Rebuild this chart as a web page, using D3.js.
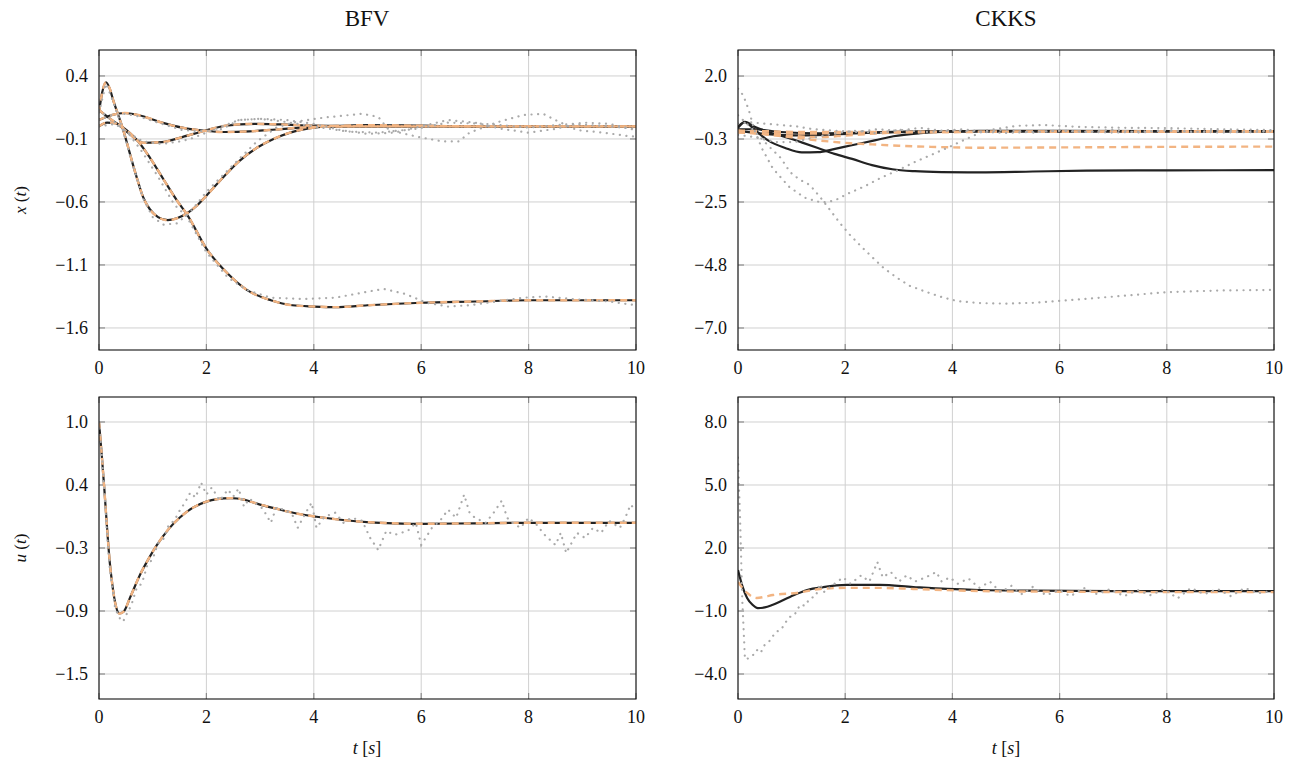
<!DOCTYPE html>
<html><head><meta charset="utf-8">
<script src="https://cdn.jsdelivr.net/npm/d3@7"></script>
<style>body{margin:0;background:#fff} text{font-family:"Liberation Serif","DejaVu Serif",serif !important}</style>
</head><body><svg id="c" width="1299" height="762"></svg>
<script>
// ---------- data ----------
const xTicks = [0, 2, 4, 6, 8, 10];
const titles = ["BFV", "CKKS"];

// BFV x(t) : reference (black) and encrypted (orange) coincide
const bfvX1 = [[0,0.11],[0.06,0.27],[0.13,0.35],[0.2,0.3],[0.27,0.2],[0.35,0.1],[0.43,0.0],[0.52,-0.13],[0.61,-0.27],[0.72,-0.43],[0.82,-0.56],[0.95,-0.66],[1.1,-0.72],[1.28,-0.745],[1.45,-0.73],[1.64,-0.69],[1.82,-0.63],[2.0,-0.55],[2.3,-0.41],[2.6,-0.28],[2.94,-0.17],[3.25,-0.1],[3.56,-0.05],[4.0,-0.01],[4.5,0.005],[5,0.01],[6,0.005],[7,0.0],[8,0.0],[10,0.0]];
const bfvX2 = [[0,0.13],[0.24,0.05],[0.54,-0.04],[0.73,-0.12],[0.95,-0.25],[1.2,-0.42],[1.47,-0.6],[1.64,-0.7],[2.0,-0.97],[2.4,-1.17],[2.76,-1.3],[3.2,-1.38],[3.6,-1.42],[4.0,-1.43],[4.4,-1.435],[5,-1.42],[6,-1.4],[7,-1.39],[8,-1.38],[10,-1.38]];
const bfvX3 = [[0,0.05],[0.24,0.09],[0.48,0.106],[0.73,0.09],[1.17,0.03],[1.55,-0.01],[1.97,-0.035],[2.35,-0.045],[2.8,-0.04],[3.3,-0.025],[4.0,-0.005],[5,0.0],[10,0.0]];
const bfvX4 = [[0,0.0],[0.15,0.03],[0.3,0.025],[0.54,-0.05],[0.82,-0.13],[1.17,-0.125],[1.55,-0.085],[1.97,-0.035],[2.35,0.005],[2.9,0.02],[3.4,0.015],[4,0.005],[5,0.0],[10,0.0]];
// BFV x(t) noisy (grey dotted)
const bfvXd1 = [[0,0.11],[0.13,0.34],[0.27,0.19],[0.43,-0.01],[0.61,-0.28],[0.82,-0.57],[1.0,-0.72],[1.2,-0.78],[1.45,-0.77],[1.7,-0.68],[2.0,-0.52],[2.3,-0.39],[2.63,-0.25],[2.94,-0.12],[3.3,-0.01],[3.7,0.04],[4.2,0.07],[4.67,0.09],[4.9,0.1],[5.2,0.075],[5.4,-0.03],[5.9,-0.08],[6.4,-0.12],[6.7,-0.12],[6.9,-0.05],[7.4,0.03],[7.9,0.09],[8.27,0.1],[8.5,0.05],[8.9,-0.03],[9.4,-0.05],[9.9,-0.08],[10,-0.08]];
const bfvXd2 = [[0,0.13],[0.24,0.05],[0.54,-0.05],[0.8,-0.2],[1.1,-0.4],[1.4,-0.62],[1.64,-0.72],[2.0,-1.0],[2.4,-1.2],[2.76,-1.3],[3.2,-1.36],[3.8,-1.37],[4.4,-1.36],[4.9,-1.32],[5.3,-1.29],[5.7,-1.33],[6.1,-1.4],[6.5,-1.43],[6.9,-1.42],[7.4,-1.39],[7.9,-1.36],[8.3,-1.35],[8.8,-1.37],[9.5,-1.39],[10,-1.42]];
const bfvXd3 = [[0,0.05],[0.24,0.09],[0.48,0.1],[0.73,0.08],[1.17,0.02],[1.55,-0.03],[1.97,-0.04],[2.3,-0.02],[2.6,0.05],[3.0,0.06],[3.4,0.04],[4,0.0],[4.6,-0.04],[5.2,-0.05],[5.9,-0.02],[6.5,0.03],[7.2,0.02],[8,-0.01],[8.8,0.02],[9.5,0.0],[10,-0.02]];
const bfvXd4 = [[0,0.0],[0.3,0.02],[0.54,-0.05],[0.82,-0.12],[1.17,-0.14],[1.5,-0.12],[1.7,-0.1],[2.0,-0.05],[2.3,0.0],[2.6,0.05],[3.0,0.06],[3.5,0.05],[4,0.02],[4.5,-0.03],[5,-0.06],[5.5,-0.05],[6,0.0],[6.5,0.05],[7,0.03],[7.5,-0.02],[8,-0.05],[8.5,-0.02],[9,0.03],[9.5,0.02],[10,-0.03]];

// CKKS x(t)
const ckX1 = [[0,0.18],[0.13,0.36],[0.32,0.18],[0.6,-0.02],[0.88,-0.18],[1.2,-0.38],[1.49,-0.57],[1.8,-0.78],[2.13,-0.96],[2.5,-1.18],[2.88,-1.33],[3.3,-1.4],[3.8,-1.43],[4.5,-1.44],[5.5,-1.41],[6.5,-1.38],[8,-1.37],[10,-1.36]];
const ckX2 = [[0,0.15],[0.13,0.35],[0.3,0.1],[0.56,-0.3],[0.88,-0.57],[1.19,-0.73],[1.49,-0.72],[1.81,-0.6],[2.1,-0.48],[2.55,-0.3],[2.9,-0.15],[3.4,-0.04],[4,0.02],[4.5,0.04],[6,0.04],[10,0.03]];
const ckX3 = [[0,0.1],[0.3,0.1],[0.8,0.0],[1.5,-0.05],[2.5,-0.02],[4,0.02],[10,0.02]];
const ckX4 = [[0,0.05],[0.4,-0.05],[1,-0.12],[1.6,-0.1],[2.4,-0.03],[3.5,0.02],[10,0.02]];
const ckXo1 = [[0,0.05],[0.5,-0.08],[1.0,-0.19],[1.5,-0.3],[2.1,-0.4],[2.5,-0.44],[3.0,-0.49],[3.6,-0.53],[4.5,-0.56],[6,-0.55],[8,-0.53],[10,-0.52]];
const ckXo2 = [[0,0.0],[0.5,-0.07],[1.0,-0.14],[1.5,-0.18],[2.0,-0.13],[2.6,-0.05],[3.4,0.0],[10,0.02]];
const ckXo3 = [[0,0.05],[0.5,0.03],[1.2,0.0],[2,0.0],[10,0.03]];
const ckXo4 = [[0,-0.02],[0.6,-0.05],[1.5,-0.05],[3,0.0],[10,0.02]];
const ckXd1 = [[0,1.55],[0.1,1.3],[0.2,0.8],[0.3,0.1],[0.45,-0.6],[0.65,-1.3],[0.95,-1.95],[1.25,-2.35],[1.55,-2.52],[1.8,-2.45],[2.05,-2.2],[2.35,-1.95],[2.65,-1.65],[3.0,-1.35],[3.3,-1.07],[3.6,-0.82],[3.9,-0.57],[4.2,-0.3],[4.6,0.05],[5.2,0.22],[5.7,0.25],[6.4,0.18],[7.2,0.15],[8,0.14],[9,0.1],[10,0.07]];
const ckXd2 = [[0,0.6],[0.25,0.14],[0.55,-0.46],[0.8,-0.93],[0.97,-1.43],[1.15,-1.7],[1.34,-1.89],[1.53,-2.32],[1.72,-2.79],[1.9,-3.25],[2.09,-3.68],[2.31,-4.11],[2.52,-4.5],[2.72,-4.86],[2.97,-5.21],[3.21,-5.5],[3.51,-5.71],[3.79,-5.89],[4.09,-6.04],[4.51,-6.11],[5.0,-6.13],[5.5,-6.1],[6.0,-6.03],[7.0,-5.88],[8.0,-5.72],[9,-5.66],[10,-5.64]];
const ckXd3 = [[0,0.3],[0.2,0.35],[0.5,0.3],[0.8,0.25],[1.1,0.2],[1.4,0.1],[1.8,0.05],[2.2,0.0],[2.6,0.1],[3.0,0.05],[3.4,0.15],[3.8,0.05],[4.2,0.1],[4.6,0.0],[5,0.08],[5.5,-0.02],[6,0.06],[6.5,0.0],[7,0.08],[7.5,-0.02],[8,0.07],[8.5,0.0],[9,0.06],[9.5,-0.01],[10,0.05]];
const ckXd4 = [[0,-0.1],[0.3,-0.18],[0.7,-0.36],[1.06,-0.36],[1.4,-0.2],[1.8,-0.05],[2.2,0.05],[2.6,-0.05],[3.0,0.08],[3.5,0.0],[4,0.05],[5,-0.03],[6,0.04],[7,-0.02],[8,0.05],[9,-0.02],[10,0.03]];

// BFV u(t)
const bfvU = [[0,1.0],[0.05,0.68],[0.1,0.33],[0.15,-0.05],[0.2,-0.39],[0.25,-0.62],[0.3,-0.79],[0.38,-0.9],[0.46,-0.88],[0.58,-0.74],[0.76,-0.52],[0.92,-0.36],[1.08,-0.22],[1.3,-0.06],[1.5,0.05],[1.75,0.15],[2.0,0.21],[2.2,0.235],[2.45,0.245],[2.7,0.23],[2.94,0.19],[3.3,0.14],[3.7,0.09],[4.05,0.06],[4.5,0.03],[5.05,0.005],[5.5,-0.005],[6,-0.01],[7,-0.005],[8,0.0],[9,0.0],[10,0.0]];
const bfvUd = [[0,1.0],[0.05,0.7],[0.1,0.3],[0.15,-0.1],[0.2,-0.45],[0.3,-0.85],[0.4,-0.96],[0.45,-0.98],[0.52,-0.9],[0.6,-0.82],[0.7,-0.65],[0.8,-0.6],[0.9,-0.42],[1.0,-0.36],[1.1,-0.2],[1.2,-0.16],[1.3,-0.02],[1.4,0.02],[1.5,0.12],[1.6,0.2],[1.7,0.3],[1.8,0.25],[1.9,0.4],[2.0,0.28],[2.1,0.35],[2.25,0.22],[2.4,0.33],[2.5,0.26],[2.6,0.34],[2.7,0.16],[2.8,0.24],[2.9,0.2],[3.05,0.14],[3.2,0.0],[3.3,0.15],[3.45,0.13],[3.6,0.08],[3.7,-0.05],[3.85,0.1],[3.96,0.2],[4.05,-0.05],[4.2,0.06],[4.4,0.1],[4.55,0.0],[4.7,0.05],[4.9,0.02],[5.05,-0.15],[5.2,-0.27],[5.35,-0.08],[5.5,-0.12],[5.75,-0.08],[5.9,0.0],[6.0,-0.22],[6.2,-0.05],[6.35,0.02],[6.5,0.13],[6.65,0.05],[6.8,0.28],[6.9,0.1],[7.0,0.05],[7.2,0.0],[7.35,0.1],[7.5,0.22],[7.6,0.05],[7.7,0.0],[7.85,-0.05],[8.0,0.05],[8.15,-0.02],[8.3,-0.12],[8.5,-0.22],[8.6,-0.1],[8.7,-0.3],[8.9,-0.1],[9.05,-0.15],[9.2,-0.05],[9.35,-0.1],[9.5,0.02],[9.7,-0.05],[9.8,0.05],[9.9,0.18],[10,0.12]];

// CKKS u(t)
const ckU = [[0,0.95],[0.08,0.2],[0.17,-0.38],[0.27,-0.7],[0.37,-0.86],[0.5,-0.83],[0.65,-0.7],[0.97,-0.33],[1.29,0.0],[1.59,0.14],[2.03,0.24],[2.65,0.24],[3.27,0.14],[3.9,0.05],[4.5,0.0],[5.5,-0.03],[7,-0.05],[10,-0.05]];
const ckUo = [[0,0.38],[0.17,-0.14],[0.35,-0.38],[0.5,-0.32],[0.65,-0.24],[1.1,-0.14],[1.53,0.05],[2.03,0.1],[2.65,0.1],[3.27,0.05],[4.5,-0.05],[6,-0.08],[8,-0.1],[10,-0.1]];
const ckUd = [[0,6.3],[0.04,3.3],[0.08,-0.5],[0.13,-3.3],[0.2,-3.25],[0.28,-3.1],[0.35,-2.85],[0.42,-3.0],[0.5,-2.6],[0.6,-2.4],[0.7,-2.0],[0.8,-1.9],[0.95,-1.3],[1.05,-1.2],[1.16,-0.7],[1.25,-0.75],[1.34,-0.4],[1.45,-0.3],[1.53,0.3],[1.6,-0.1],[1.75,0.2],[1.96,0.6],[2.1,0.3],[2.3,0.7],[2.45,0.4],[2.6,1.33],[2.7,0.6],[2.85,0.86],[3.0,0.4],[3.15,0.7],[3.3,0.4],[3.5,0.6],[3.7,0.86],[3.8,0.4],[3.95,0.6],[4.1,0.3],[4.3,0.55],[4.5,0.1],[4.7,0.4],[4.9,-0.1],[5.1,0.2],[5.3,-0.2],[5.5,0.15],[5.75,-0.25],[6.0,0.0],[6.2,-0.3],[6.45,0.1],[6.7,-0.2],[6.95,0.05],[7.2,-0.3],[7.45,0.0],[7.7,-0.25],[7.95,0.05],[8.2,-0.4],[8.45,0.1],[8.7,-0.2],[8.95,0.05],[9.2,-0.3],[9.45,0.1],[9.7,-0.15],[9.95,-0.05]];

// y tick values and labels
const tlTicks = [0.4, -0.1, -0.6, -1.1, -1.6];
const tlLabels = ["0.4", "−0.1", "−0.6", "−1.1", "−1.6"];
const trTicks = [2.0, -0.25, -2.5, -4.75, -7.0];
const trLabels = ["2.0", "−0.3", "−2.5", "−4.8", "−7.0"];
const blTicks = [1.0, 0.375, -0.25, -0.875, -1.5];
const blLabels = ["1.0", "0.4", "−0.3", "−0.9", "−1.5"];
const brTicks = [8, 5, 2, -1, -4];
const brLabels = ["8.0", "5.0", "2.0", "−1.0", "−4.0"];

// ---------- drawing ----------
const FONT = "'Liberation Serif','DejaVu Serif',serif";
const svg = d3.select("#c").attr("font-family", FONT);
const C = {black: "#222222", orange: "#f2b482", grey: "#aaaaaa", grid: "#d0d0d0", tick: "#8c8c8c", text: "#111"};

const panels = [
  {x0: 99, x1: 636, y0: 50, y1: 350, dom: [-1.775, 0.606], ticks: tlTicks, labels: tlLabels,
   black: [bfvX1, bfvX2, bfvX3, bfvX4], orange: [bfvX1, bfvX2, bfvX3, bfvX4], grey: [bfvXd1, bfvXd2, bfvXd3, bfvXd4]},
  {x0: 738, x1: 1274, y0: 50, y1: 350, dom: [-7.786, 2.93], ticks: trTicks, labels: trLabels,
   black: [ckX1, ckX2, ckX3, ckX4], orange: [ckXo1, ckXo2, ckXo3, ckXo4], grey: [ckXd1, ckXd2, ckXd3, ckXd4]},
  {x0: 99, x1: 636, y0: 397, y1: 699, dom: [-1.748, 1.248], ticks: blTicks, labels: blLabels,
   black: [bfvU], orange: [bfvU], grey: [bfvUd]},
  {x0: 738, x1: 1274, y0: 397, y1: 699, dom: [-5.19, 9.19], ticks: brTicks, labels: brLabels,
   black: [ckU], orange: [ckUo], grey: [ckUd]}
];

panels.forEach((p, i) => {
  const x = d3.scaleLinear().domain([0, 10]).range([p.x0, p.x1]);
  const y = d3.scaleLinear().domain(p.dom).range([p.y1, p.y0]);
  const g = svg.append("g");
  const cid = "clip" + i;
  svg.append("clipPath").attr("id", cid).append("rect")
    .attr("x", p.x0).attr("y", p.y0).attr("width", p.x1 - p.x0).attr("height", p.y1 - p.y0);

  // grid
  g.selectAll(".gx").data(xTicks).join("line")
    .attr("x1", d => x(d)).attr("x2", d => x(d)).attr("y1", p.y0).attr("y2", p.y1)
    .attr("stroke", C.grid).attr("stroke-width", 1);
  g.selectAll(".gy").data(p.ticks).join("line")
    .attr("y1", d => y(d)).attr("y2", d => y(d)).attr("x1", p.x0).attr("x2", p.x1)
    .attr("stroke", C.grid).attr("stroke-width", 1);

  // inner tick marks
  const tk = g.append("g").attr("stroke", C.tick).attr("stroke-width", 1.2);
  xTicks.forEach(d => {
    tk.append("line").attr("x1", x(d)).attr("x2", x(d)).attr("y1", p.y1).attr("y2", p.y1 - 6);
    tk.append("line").attr("x1", x(d)).attr("x2", x(d)).attr("y1", p.y0).attr("y2", p.y0 + 6);
  });
  p.ticks.forEach(d => {
    tk.append("line").attr("y1", y(d)).attr("y2", y(d)).attr("x1", p.x0).attr("x2", p.x0 + 6);
    tk.append("line").attr("y1", y(d)).attr("y2", y(d)).attr("x1", p.x1).attr("x2", p.x1 - 6);
  });

  const line = d3.line().x(d => x(d[0])).y(d => y(d[1])).curve(d3.curveMonotoneX);
  const lineL = d3.line().x(d => x(d[0])).y(d => y(d[1])).curve(d3.curveLinear);
  const lg = g.append("g").attr("clip-path", `url(#${cid})`).attr("fill", "none");
  p.black.forEach(s => lg.append("path").attr("d", line(s)).attr("stroke", C.black).attr("stroke-width", 2.2));
  p.orange.forEach(s => lg.append("path").attr("d", line(s)).attr("stroke", C.orange).attr("stroke-width", 2.4).attr("stroke-dasharray", "7,5"));
  p.grey.forEach(s => lg.append("path").attr("d", lineL(s)).attr("stroke", C.grey).attr("stroke-width", 2.2)
    .attr("stroke-linecap", "round").attr("stroke-dasharray", "0.1,6.5"));

  // frame
  g.append("rect").attr("x", p.x0).attr("y", p.y0).attr("width", p.x1 - p.x0).attr("height", p.y1 - p.y0)
    .attr("fill", "none").attr("stroke", "#111").attr("stroke-width", 1.1);

  // tick labels
  g.selectAll(".xl").data(xTicks).join("text")
    .attr("x", d => x(d)).attr("y", p.y1 + 24).attr("text-anchor", "middle").attr("fill", C.text)
    .attr("font-family", FONT).attr("font-size", 18).text(d => d);
  g.selectAll(".yl").data(p.ticks).join("text")
    .attr("x", p.x0 - 11).attr("y", d => y(d) + 6).attr("text-anchor", "end").attr("fill", C.text)
    .attr("font-family", FONT).attr("font-size", 18).text((d, j) => p.labels[j]);
});

// titles
[[367, titles[0]], [1006, titles[1]]].forEach(([cx, t]) =>
  svg.append("text").attr("x", cx).attr("y", 26).attr("text-anchor", "middle").attr("fill", C.text)
    .attr("font-family", FONT).attr("font-size", 23).text(t));

// axis labels
function yLabel(cx, cy, v) {
  const t = svg.append("text").attr("transform", `translate(${cx},${cy}) rotate(-90)`)
    .attr("text-anchor", "middle").attr("font-size", 17).attr("fill", C.text).attr("font-family", FONT);
  t.append("tspan").attr("font-style", "italic").text(v);
  t.append("tspan").text(" (");
  t.append("tspan").attr("font-style", "italic").text("t");
  t.append("tspan").text(")");
}
yLabel(26, 200, "x");
yLabel(26, 548, "u");
function xLabel(cx, cy) {
  const t = svg.append("text").attr("x", cx).attr("y", cy).attr("text-anchor", "middle").attr("font-size", 18)
    .attr("fill", C.text).attr("font-family", FONT);
  t.append("tspan").attr("font-style", "italic").text("t");
  t.append("tspan").text(" [");
  t.append("tspan").attr("font-style", "italic").text("s");
  t.append("tspan").text("]");
}
xLabel(367, 754);
xLabel(1006, 754);
</script></body></html>
